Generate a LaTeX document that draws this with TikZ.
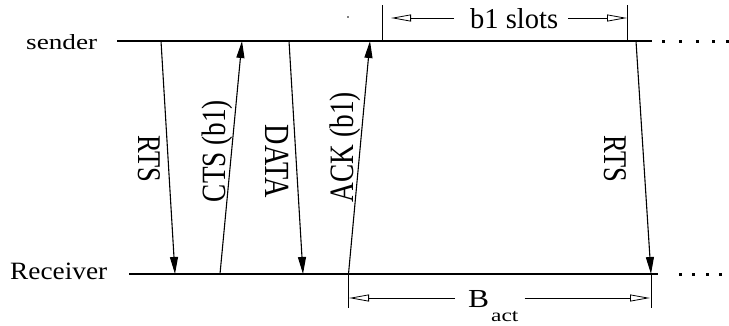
\documentclass[tikz,border=0pt]{standalone}
\usepackage{fontspec}
\setmainfont{Liberation Serif}
\usepackage{graphicx}
\usetikzlibrary{arrows.meta,calc}
\newcommand\vtext[2]{\scalebox{1}[1.25]{\resizebox{#1pt}{!}{#2}}}
\begin{document}
\begin{tikzpicture}[x=1pt,y=-1pt,
  axisline/.style={line width=1.3pt},
  msg/.style={line width=1.1pt,-{Triangle[length=17pt,width=8pt]}},
  tickline/.style={line width=0.8pt},
  dim/.style={line width=0.8pt,-{Triangle[open,length=20pt,width=7pt]}},
  lbl/.style={inner sep=0pt},
  vlbl/.style={inner sep=0pt}
]
\useasboundingbox (0,0) rectangle (729,325);

% participant labels
\node[lbl,anchor=base west] (snd) at (26,49.5) {\resizebox{71pt}{15pt}{sender}};
\node[lbl,anchor=base west] (rcv) at (10,279) {\resizebox{97pt}{16.5pt}{Receiver}};

% time axes
\coordinate (sL) at (117,41);
\coordinate (sR) at (652,41);
\coordinate (rL) at (129,274);
\coordinate (rR) at (658,274);
\draw[axisline] (sL) -- (sR);
\draw[axisline] (rL) -- (rR);
\foreach \x in {663,680,697,713,727} \fill (\x-1.5,39.5) rectangle ++(3,3);
\foreach \x in {680,693.5,707,720.5} \fill (\x-1.5,272.5) rectangle ++(3,3);

% stray dot
\fill (348,17) circle (0.9pt);

% message end points
\coordinate (s1) at (161,41);  \coordinate (r1) at (175,274);
\coordinate (r2) at (220,274); \coordinate (s2) at (242,41);
\coordinate (s3) at (289,41);  \coordinate (r3) at (303,274);
\coordinate (r4) at (348.5,274); \coordinate (s4) at (370,41);
\coordinate (s5) at (636,41);  \coordinate (r5) at (651,274);

\draw[msg] (s1) -- (r1);
\draw[msg] (r2) -- (s2);
\draw[msg] (s3) -- (r3);
\draw[msg] (r4) -- (s4);
\draw[msg] (s5) -- (r5);

% message labels
\node[vlbl,rotate=-90] (l1) at (149,158.5) {\vtext{47}{RTS}};
\node[vlbl,rotate=90]  (l2) at (217,151) {\vtext{102}{CTS (b1)}};
\node[vlbl,rotate=-90] (l3) at (277,161.5) {\vtext{73}{DATA}};
\node[vlbl,rotate=90]  (l4) at (345,147) {\vtext{110}{ACK (b1)}};
\node[vlbl,rotate=-90] (l5) at (615,158.5) {\vtext{47}{RTS}};

% b1 slots dimension
\coordinate (t1a) at (382,5);  \coordinate (t1b) at (382,41);
\coordinate (t2a) at (627,5);  \coordinate (t2b) at (627,41);
\draw[tickline] (t1a) -- (t1b);
\draw[tickline] (t2a) -- (t2b);
\node[lbl,anchor=base west] (b1) at (470,28) {\resizebox{88pt}{20pt}{b1 slots}};
\coordinate (b1l) at (391,18);
\coordinate (b1r) at (627,18);
\draw[dim] ($(b1.west|-b1l)+(-16,0)$) -- (b1l);
\draw[dim] ($(b1.east|-b1r)+(10,0)$) -- (b1r);

% B_act dimension
\coordinate (u1a) at (348.5,274); \coordinate (u1b) at (348.5,308);
\coordinate (u2a) at (651,274);   \coordinate (u2b) at (651,308);
\draw[tickline] (u1a) -- (u1b);
\draw[tickline] (u2a) -- (u2b);
\node[lbl,anchor=base west] (bB) at (468,307) {\resizebox{21pt}{17pt}{B}};
\node[lbl,anchor=base west] (bact) at (491,321) {\scalebox{1.3}[1]{\fontsize{18}{18}\selectfont act}};
\coordinate (bal) at (349,298);
\coordinate (bar) at (650,298);
\draw[dim] ($(bB.west|-bal)+(-13,0)$) -- (bal);
\draw[dim] ($(bact.east|-bar)+(6,0)$) -- (bar);
\end{tikzpicture}
\end{document}
